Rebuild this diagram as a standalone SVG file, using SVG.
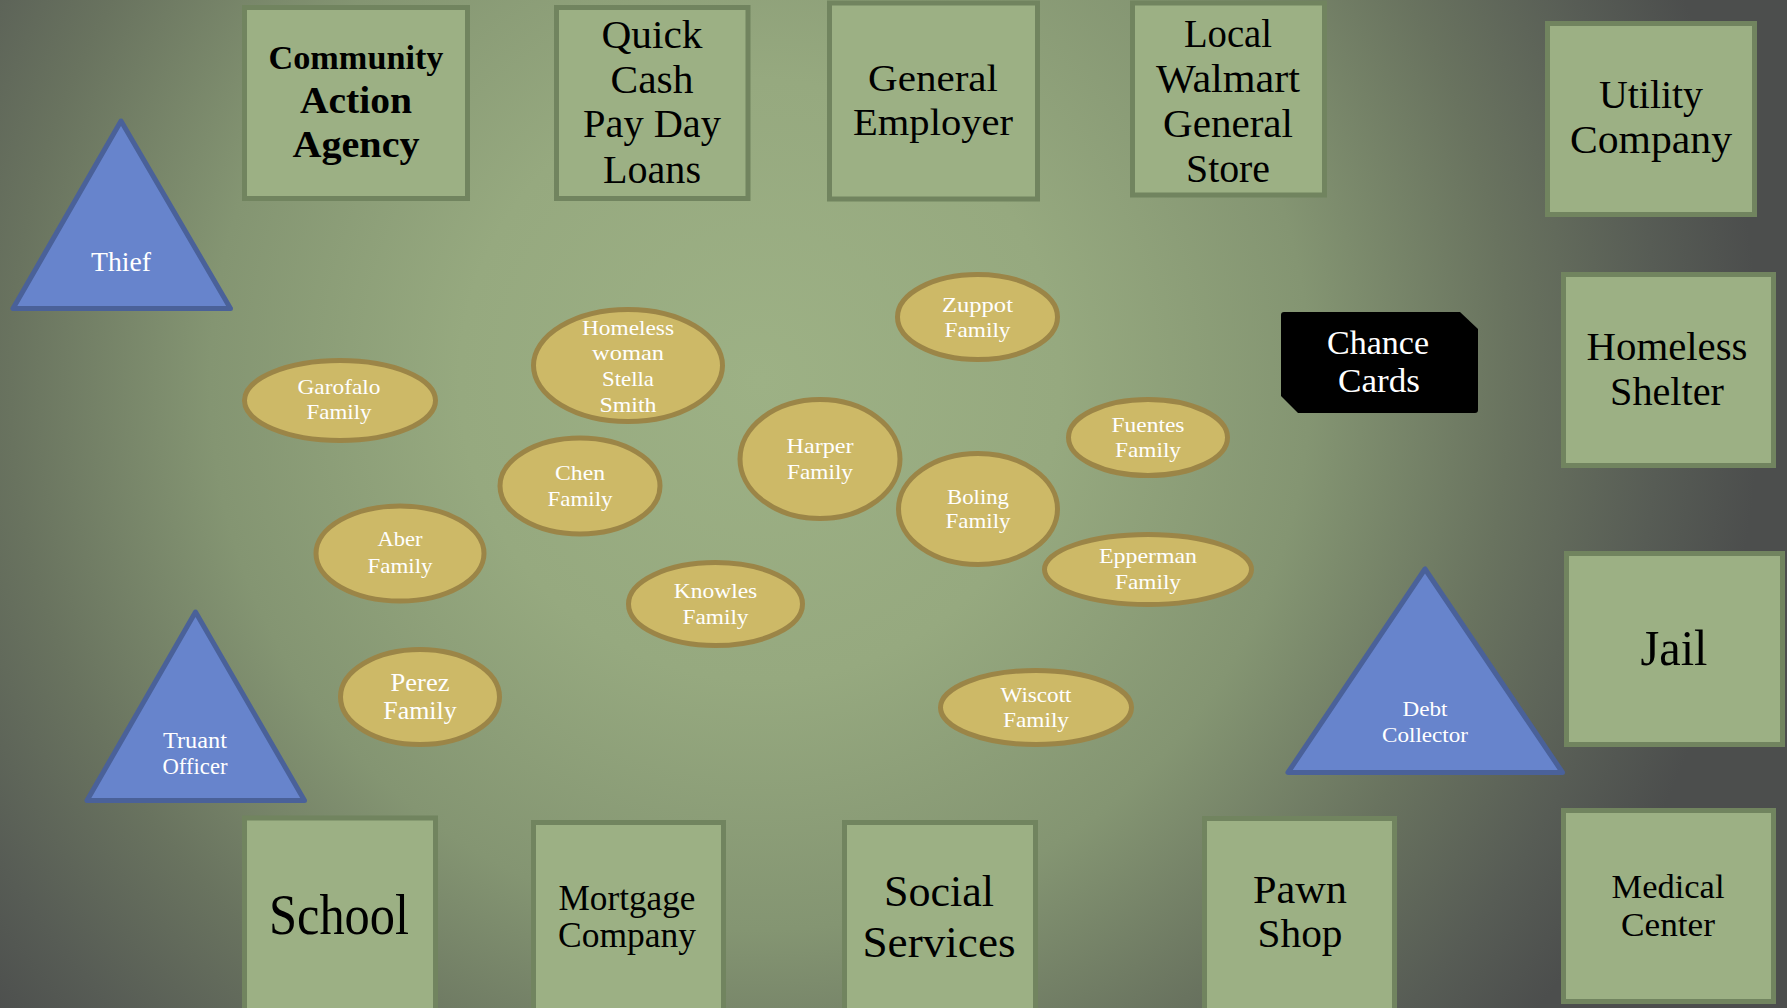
<svg xmlns="http://www.w3.org/2000/svg" width="1787" height="1008" viewBox="0 0 1787 1008">
<defs>
<radialGradient id="bg" gradientUnits="userSpaceOnUse" cx="760" cy="380" r="1000">
<stop offset="0" stop-color="#9db185"/>
<stop offset="0.3" stop-color="#96a97f"/>
<stop offset="0.55" stop-color="#849572"/>
<stop offset="0.75" stop-color="#69735f"/>
<stop offset="0.9" stop-color="#575c55"/>
<stop offset="1" stop-color="#4c4e4d"/>
</radialGradient>
<style>
.box{fill:#9cb084;stroke:#71845f;stroke-width:5}
.fam{fill:#cdb967;stroke:#9b8547;stroke-width:5}
.tri{fill:#6784cc;stroke:#4a6199;stroke-width:5;stroke-linejoin:round}
.bt{font-family:"Liberation Serif",serif;fill:#000;text-anchor:middle}
.wt{font-family:"Liberation Serif",serif;fill:#fff;text-anchor:middle}
.f22{font-size:22px}
</style>
</defs>
<rect x="0" y="0" width="1787" height="1008" fill="url(#bg)"/>
<g id="connectors"/>

<g id="community-action-agency">
<rect class="box" x="244.5" y="7.5" width="223" height="191"/>
<text class="bt" font-weight="bold" font-size="34" x="356" y="69" textLength="175" lengthAdjust="spacingAndGlyphs">Community</text>
<text class="bt" font-weight="bold" font-size="38" x="356" y="113" textLength="112" lengthAdjust="spacingAndGlyphs">Action</text>
<text class="bt" font-weight="bold" font-size="38" x="356" y="157" textLength="127" lengthAdjust="spacingAndGlyphs">Agency</text>
</g>
<g id="quick-cash">
<rect class="box" x="556.5" y="7.5" width="191.5" height="191"/>
<text class="bt" font-size="40" x="652" y="48" textLength="101" lengthAdjust="spacingAndGlyphs">Quick</text>
<text class="bt" font-size="40" x="652" y="93" textLength="83" lengthAdjust="spacingAndGlyphs">Cash</text>
<text class="bt" font-size="40" x="652" y="137" textLength="138" lengthAdjust="spacingAndGlyphs">Pay Day</text>
<text class="bt" font-size="40" x="652" y="183" textLength="98" lengthAdjust="spacingAndGlyphs">Loans</text>
</g>
<g id="general-employer">
<rect class="box" x="829.5" y="3" width="208" height="196"/>
<text class="bt" font-size="38" x="933" y="91" textLength="130" lengthAdjust="spacingAndGlyphs">General</text>
<text class="bt" font-size="38" x="933" y="135" textLength="160" lengthAdjust="spacingAndGlyphs">Employer</text>
</g>
<g id="local-walmart">
<rect class="box" x="1132.5" y="3" width="192" height="192"/>
<text class="bt" font-size="40" x="1228" y="47" textLength="88" lengthAdjust="spacingAndGlyphs">Local</text>
<text class="bt" font-size="40" x="1228" y="92" textLength="144" lengthAdjust="spacingAndGlyphs">Walmart</text>
<text class="bt" font-size="40" x="1228" y="137" textLength="130" lengthAdjust="spacingAndGlyphs">General</text>
<text class="bt" font-size="40" x="1228" y="182" textLength="84" lengthAdjust="spacingAndGlyphs">Store</text>
</g>
<g id="utility-company">
<rect class="box" x="1547.5" y="23.5" width="207" height="191"/>
<text class="bt" font-size="40" x="1651" y="108" textLength="104" lengthAdjust="spacingAndGlyphs">Utility</text>
<text class="bt" font-size="40" x="1651" y="153" textLength="162" lengthAdjust="spacingAndGlyphs">Company</text>
</g>
<g id="homeless-shelter">
<rect class="box" x="1563.5" y="274.5" width="210" height="191"/>
<text class="bt" font-size="40" x="1667" y="360" textLength="161" lengthAdjust="spacingAndGlyphs">Homeless</text>
<text class="bt" font-size="40" x="1667" y="405" textLength="114" lengthAdjust="spacingAndGlyphs">Shelter</text>
</g>
<g id="jail">
<rect class="box" x="1566.5" y="553.5" width="216" height="191"/>
<text class="bt" font-size="50" x="1674" y="665" textLength="67" lengthAdjust="spacingAndGlyphs">Jail</text>
</g>
<g id="medical-center">
<rect class="box" x="1563.5" y="810.5" width="210" height="191"/>
<text class="bt" font-size="34" x="1668" y="898" textLength="113" lengthAdjust="spacingAndGlyphs">Medical</text>
<text class="bt" font-size="34" x="1668" y="936" textLength="94" lengthAdjust="spacingAndGlyphs">Center</text>
</g>
<g id="pawn-shop">
<rect class="box" x="1204.5" y="818.5" width="190" height="200"/>
<text class="bt" font-size="40" x="1300" y="903" textLength="94" lengthAdjust="spacingAndGlyphs">Pawn</text>
<text class="bt" font-size="40" x="1300" y="947" textLength="85" lengthAdjust="spacingAndGlyphs">Shop</text>
</g>
<g id="social-services">
<rect class="box" x="844.5" y="822.5" width="191" height="200"/>
<text class="bt" font-size="44" x="939" y="906" textLength="110" lengthAdjust="spacingAndGlyphs">Social</text>
<text class="bt" font-size="44" x="939" y="957" textLength="153" lengthAdjust="spacingAndGlyphs">Services</text>
</g>
<g id="mortgage-company">
<rect class="box" x="533.5" y="822.5" width="190" height="200"/>
<text class="bt" font-size="35" x="627" y="910" textLength="137" lengthAdjust="spacingAndGlyphs">Mortgage</text>
<text class="bt" font-size="35" x="627" y="947" textLength="138" lengthAdjust="spacingAndGlyphs">Company</text>
</g>
<g id="school">
<rect class="box" x="244.5" y="818" width="191" height="200"/>
<text class="bt" font-size="58" x="339" y="934" textLength="140" lengthAdjust="spacingAndGlyphs">School</text>
</g>

<g id="chance-cards">
<path d="M1284,312 H1460 L1478,329 V410 Q1478,413 1475,413 H1298 L1281,396 V315 Q1281,312 1284,312 Z" fill="#000"/>
<text class="wt" font-size="34" x="1378" y="354" textLength="102" lengthAdjust="spacingAndGlyphs">Chance</text>
<text class="wt" font-size="34" x="1379" y="392" textLength="82" lengthAdjust="spacingAndGlyphs">Cards</text>
</g>

<g id="thief">
<polygon class="tri" points="121,121 13,308.5 230.5,308.5"/>
<text class="wt" font-size="28" x="121" y="271" textLength="60" lengthAdjust="spacingAndGlyphs">Thief</text>
</g>
<g id="truant-officer">
<polygon class="tri" points="195.5,612 87,800.5 304.5,800.5"/>
<text class="wt" font-size="23" x="195" y="748" textLength="64" lengthAdjust="spacingAndGlyphs">Truant</text>
<text class="wt" font-size="23" x="195" y="774" textLength="65" lengthAdjust="spacingAndGlyphs">Officer</text>
</g>
<g id="debt-collector">
<polygon class="tri" points="1425,569 1288,772.5 1562.5,772.5"/>
<text class="wt" font-size="22" x="1425" y="716" textLength="45" lengthAdjust="spacingAndGlyphs">Debt</text>
<text class="wt" font-size="22" x="1425" y="742" textLength="86" lengthAdjust="spacingAndGlyphs">Collector</text>
</g>

<g id="garofalo-family">
<ellipse class="fam" cx="340" cy="400.5" rx="95.5" ry="40"/>
<text class="wt f22" x="339" y="394" textLength="83" lengthAdjust="spacingAndGlyphs">Garofalo</text>
<text class="wt f22" x="339" y="419" textLength="65" lengthAdjust="spacingAndGlyphs">Family</text>
</g>
<g id="homeless-woman">
<ellipse class="fam" cx="628" cy="365.5" rx="94.5" ry="56"/>
<text class="wt f22" x="628" y="335" textLength="92" lengthAdjust="spacingAndGlyphs">Homeless</text>
<text class="wt f22" x="628" y="360" textLength="72" lengthAdjust="spacingAndGlyphs">woman</text>
<text class="wt f22" x="628" y="386" textLength="52" lengthAdjust="spacingAndGlyphs">Stella</text>
<text class="wt f22" x="628" y="412" textLength="57" lengthAdjust="spacingAndGlyphs">Smith</text>
</g>
<g id="zuppot-family">
<ellipse class="fam" cx="977.5" cy="317" rx="80" ry="42.5"/>
<text class="wt f22" x="977.5" y="312" textLength="71" lengthAdjust="spacingAndGlyphs">Zuppot</text>
<text class="wt f22" x="977.5" y="337" textLength="66" lengthAdjust="spacingAndGlyphs">Family</text>
</g>
<g id="fuentes-family">
<ellipse class="fam" cx="1148" cy="437.5" rx="79.5" ry="38"/>
<text class="wt f22" x="1148" y="432" textLength="73" lengthAdjust="spacingAndGlyphs">Fuentes</text>
<text class="wt f22" x="1148" y="457" textLength="66" lengthAdjust="spacingAndGlyphs">Family</text>
</g>
<g id="harper-family">
<ellipse class="fam" cx="820" cy="459" rx="80" ry="59.5"/>
<text class="wt f22" x="820" y="453" textLength="67" lengthAdjust="spacingAndGlyphs">Harper</text>
<text class="wt f22" x="820" y="479" textLength="66" lengthAdjust="spacingAndGlyphs">Family</text>
</g>
<g id="chen-family">
<ellipse class="fam" cx="580" cy="486" rx="80" ry="48"/>
<text class="wt f22" x="580" y="480" textLength="50" lengthAdjust="spacingAndGlyphs">Chen</text>
<text class="wt f22" x="580" y="506" textLength="65" lengthAdjust="spacingAndGlyphs">Family</text>
</g>
<g id="boling-family">
<ellipse class="fam" cx="978" cy="509" rx="79.5" ry="55.5"/>
<text class="wt f22" x="978" y="504" textLength="62" lengthAdjust="spacingAndGlyphs">Boling</text>
<text class="wt f22" x="978" y="528" textLength="65" lengthAdjust="spacingAndGlyphs">Family</text>
</g>
<g id="aber-family">
<ellipse class="fam" cx="400" cy="553.5" rx="84" ry="47.5"/>
<text class="wt f22" x="400" y="546" textLength="45" lengthAdjust="spacingAndGlyphs">Aber</text>
<text class="wt f22" x="400" y="573" textLength="65" lengthAdjust="spacingAndGlyphs">Family</text>
</g>
<g id="epperman-family">
<ellipse class="fam" cx="1148" cy="569.5" rx="103.5" ry="35"/>
<text class="wt f22" x="1148" y="563" textLength="98" lengthAdjust="spacingAndGlyphs">Epperman</text>
<text class="wt f22" x="1148" y="589" textLength="66" lengthAdjust="spacingAndGlyphs">Family</text>
</g>
<g id="knowles-family">
<ellipse class="fam" cx="715.5" cy="604" rx="87" ry="41.5"/>
<text class="wt f22" x="715.5" y="598" textLength="83.5" lengthAdjust="spacingAndGlyphs">Knowles</text>
<text class="wt f22" x="715.5" y="624" textLength="66" lengthAdjust="spacingAndGlyphs">Family</text>
</g>
<g id="perez-family">
<ellipse class="fam" cx="420" cy="697" rx="79.5" ry="47.5"/>
<text class="wt" font-size="25" x="420" y="691" textLength="59" lengthAdjust="spacingAndGlyphs">Perez</text>
<text class="wt" font-size="25" x="420" y="719" textLength="73.5" lengthAdjust="spacingAndGlyphs">Family</text>
</g>
<g id="wiscott-family">
<ellipse class="fam" cx="1036" cy="707.5" rx="95.5" ry="37"/>
<text class="wt f22" x="1036" y="702" textLength="71" lengthAdjust="spacingAndGlyphs">Wiscott</text>
<text class="wt f22" x="1036" y="727" textLength="66" lengthAdjust="spacingAndGlyphs">Family</text>
</g>
</svg>
